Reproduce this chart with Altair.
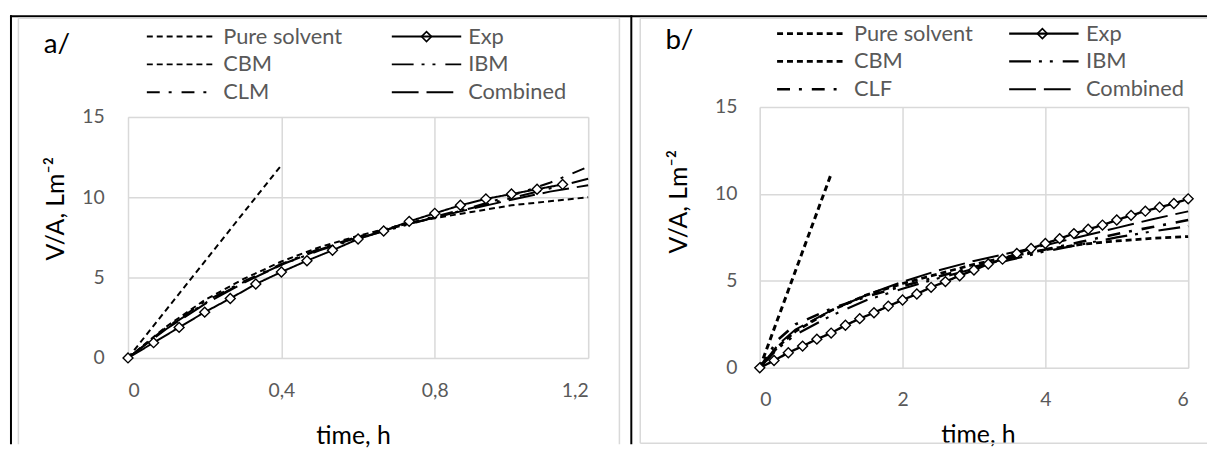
import altair as alt
import pandas as pd

FONT = "Lato"
GRID = "#d9d9d9"
LABEL_GREY = "#595959"

# ---------------- data: panel a ----------------
# legend order (column-major): col 1 = Pure solvent, CBM, CLM ; col 2 = Exp, IBM, Combined
SERIES_A = ["Pure solvent", "CBM", "CLM", "Exp", "IBM", "Combined"]
a_pure_t = [0.0, 0.4]
a_pure_v = [0.0, 12.0]
a_exp_t = [0.0, 0.0667, 0.1333, 0.2, 0.2667, 0.3333, 0.4, 0.4667, 0.5333, 0.6,
           0.6667, 0.7333, 0.8, 0.8667, 0.9333, 1.0, 1.0667, 1.1333]
a_exp_v = [0.0, 0.95, 1.9, 2.85, 3.7, 4.6, 5.35, 6.05, 6.7, 7.4,
           7.9, 8.5, 9.0, 9.5, 9.9, 10.2, 10.5, 10.8]
a_model_t = [0.0, 0.1, 0.2, 0.3, 0.4, 0.5, 0.6, 0.7, 0.8, 0.9, 1.0, 1.1, 1.2]
a_cbm = [0.0, 1.95, 3.6, 4.9, 6.0, 6.9, 7.6, 8.2, 8.7, 9.1, 9.5, 9.75, 10.0]
a_ibm = [0.0, 1.85, 3.4, 4.7, 5.8, 6.7, 7.45, 8.1, 8.75, 9.35, 9.95, 10.55, 11.15]
a_clm = [0.0, 1.9, 3.5, 4.75, 5.85, 6.8, 7.55, 8.2, 8.8, 9.4, 10.1, 10.9, 11.9]
a_comb = [0.0, 1.8, 3.35, 4.65, 5.8, 6.75, 7.5, 8.15, 8.75, 9.3, 9.85, 10.35, 10.75]
a_xticks = [0, 0.4, 0.8, 1.2]

# ---------------- data: panel b ----------------
SERIES_B = ["Pure solvent", "CBM", "CLF", "Exp", "IBM", "Combined"]
b_pure_t = [0.0, 1.0]
b_pure_v = [0.0, 11.15]
b_exp_t = [0.0, 0.2, 0.4, 0.6, 0.8, 1.0, 1.2, 1.4, 1.6, 1.8, 2.0, 2.2, 2.4, 2.6, 2.8,
           3.0, 3.2, 3.4, 3.6, 3.8, 4.0, 4.2, 4.4, 4.6, 4.8, 5.0, 5.2, 5.4, 5.6, 5.8, 6.0]
b_exp_v = [0.0, 0.42, 0.87, 1.25, 1.65, 2.0, 2.45, 2.83, 3.17, 3.55, 3.9, 4.25, 4.63, 4.96, 5.3,
           5.63, 5.97, 6.25, 6.58, 6.86, 7.15, 7.43, 7.72, 7.97, 8.21, 8.5, 8.77, 9.01, 9.24, 9.45, 9.72]
b_model_t = [0.0, 0.25, 0.5, 1.0, 1.5, 2.0, 2.5, 3.0, 3.5, 4.0, 4.5, 5.0, 5.5, 6.0]
b_cbm = [0.0, 1.2, 2.1, 3.3, 4.2, 4.85, 5.4, 5.95, 6.4, 6.8, 7.1, 7.3, 7.45, 7.55]
b_ibm = [0.0, 1.1, 1.9, 3.0, 3.9, 4.55, 5.15, 5.7, 6.2, 6.7, 7.1, 7.5, 7.85, 8.15]
b_clf = [0.0, 1.6, 2.5, 3.4, 4.1, 4.7, 5.25, 5.8, 6.3, 6.8, 7.25, 7.7, 8.1, 8.5]
b_comb = [0.0, 1.3, 2.2, 3.3, 4.2, 4.95, 5.6, 6.15, 6.6, 7.05, 7.55, 8.05, 8.55, 9.0]
b_xticks = [0, 2, 4, 6]

yticks = [0, 5, 10, 15]

# styles (same order as the series lists)
DASHES = [[6, 4], [6, 4], [13, 9, 3, 10], [1, 0], [22, 8, 3, 8, 3, 10], [27, 8]]
WIDTHS_A = [2, 2, 2, 1.3, 2, 2]
WIDTHS_B = [3, 2, 2, 1.3, 2, 2]


def long_df(pairs):
    rows = []
    for name, ts, vs in pairs:
        for t, v in zip(ts, vs):
            rows.append({"t": t, "v": v, "series": name})
    return pd.DataFrame(rows)


def panel(series, widths, lines_df, exp_df, xmax, xticks, w, h, geo, frame=None):
    x_axis = alt.Axis(
        values=xticks, labelExpr="replace(format(datum.value, '.1~f'), '.', ',')",
        title="time, h", grid=True, gridColor=GRID, gridWidth=1.5, domain=False,
        ticks=False, tickSize=0, labelFont=FONT, labelFontSize=19.5, labelColor=LABEL_GREY,
        labelPadding=geo["xlp"], titleFont=FONT, titleFontSize=25, titleFontWeight="normal",
        titleColor="black", titleX=geo["xtx"], titleY=geo["xty"], titleBaseline="alphabetic",
        titleAlign="center")
    y_axis = alt.Axis(
        values=yticks, title="V/A, Lm⁻²", grid=True, gridColor=GRID, gridWidth=1.5,
        domain=False, ticks=False, tickSize=0, labelFont=FONT, labelFontSize=19.5,
        labelColor=LABEL_GREY, labelPadding=geo["ylp"], titleFont=FONT, titleFontSize=25,
        titleFontWeight="normal", titleColor="black", titleX=geo["ytx"], titleY=geo["yty"],
        titleBaseline="alphabetic", titleAlign="center", titleAngle=270)
    x = alt.X("t:Q", scale=alt.Scale(domain=[0, xmax], nice=False), axis=x_axis)
    y = alt.Y("v:Q", scale=alt.Scale(domain=[0, 15], nice=False), axis=y_axis)
    legend = alt.Legend(
        title=None, orient="none", legendX=geo["lx"], legendY=geo["ly"], columns=2,
        symbolType="stroke", symbolSize=4900, symbolStrokeWidth=2, symbolStrokeColor="black",
        clipHeight=28, rowPadding=0, columnPadding=geo["colpad"], labelOffset=6,
        labelFont=FONT, labelFontSize=22, labelColor=LABEL_GREY, padding=0, labelLimit=400)
    lines = alt.Chart(lines_df).mark_line(color="black", strokeCap="butt").encode(
        x=x, y=y,
        strokeDash=alt.StrokeDash("series:N", scale=alt.Scale(domain=series, range=DASHES),
                                  legend=legend, sort=series),
        strokeWidth=alt.StrokeWidth("series:N", scale=alt.Scale(domain=series, range=widths),
                                    legend=None),
    )
    pts = alt.Chart(exp_df).mark_point(
        shape="diamond", filled=True, fill="white", stroke="black", strokeWidth=1.4,
        size=100, opacity=1).encode(x=x, y=y)
    one = pd.DataFrame({"k": [0]})
    # diamond glyph of the "Exp" legend entry
    glyph = alt.Chart(one).mark_point(
        shape="diamond", filled=True, fill="white", stroke="black", strokeWidth=1.6,
        size=100, opacity=1).encode(x=alt.value(geo["gx"]), y=alt.value(geo["gy"]))
    lab = alt.Chart(one).mark_text(
        text=geo["label"], font=FONT, fontSize=28, align="left", baseline="alphabetic",
        color="black").encode(x=alt.value(geo["labx"]), y=alt.value(geo["laby"]))
    layers = [lines, pts, glyph, lab]
    if frame:
        for (x1, x2, y1, y2, col, sw) in frame:
            base = alt.Chart(one).mark_rule(color=col, strokeWidth=sw)
            if y1 == y2:
                layers.append(base.encode(x=alt.value(x1), x2=alt.value(x2), y=alt.value(y1)))
            else:
                layers.append(base.encode(x=alt.value(x1), y=alt.value(y1), y2=alt.value(y2)))
    return alt.layer(*layers).properties(width=w, height=h)


df_a = long_df([("Pure solvent", a_pure_t, a_pure_v), ("Exp", a_exp_t, a_exp_v),
                ("CBM", a_model_t, a_cbm), ("IBM", a_model_t, a_ibm),
                ("CLM", a_model_t, a_clm), ("Combined", a_model_t, a_comb)])
exp_a = long_df([("Exp", a_exp_t, a_exp_v)])
df_b = long_df([("Pure solvent", b_pure_t, b_pure_v), ("Exp", b_exp_t, b_exp_v),
                ("CBM", b_model_t, b_cbm), ("IBM", b_model_t, b_ibm),
                ("CLF", b_model_t, b_clf), ("Combined", b_model_t, b_comb)])
exp_b = long_df([("Exp", b_exp_t, b_exp_v)])

geo_a = dict(xlp=24, xtx=227, xty=86, ylp=24, ytx=-65, yty=92, lx=18, ly=-95, colpad=48,
             gx=301, gy=-81, label="a/", labx=-85, laby=-64)
geo_b = dict(xlp=23, xtx=220, xty=75, ylp=23, ytx=-74, yty=95, lx=16, ly=-88, colpad=34,
             gx=285, gy=-74, label="b/", labx=-95, laby=-58)

# decorative frame (pixel offsets relative to panel b plot origin)
FRAME = [
    (-756, 451, -91.5, -91.5, "black", 2),      # top black line
    (-755, -755, -92.5, 340, "black", 2),       # left black line
    (-129.5, -129.5, -92.5, 340, "black", 2),   # divider
    (-747.5, -141.5, -89.5, -89.5, GRID, 1.5),  # panel a border top
    (-747.5, -747.5, -89.5, 340, GRID, 1.5),    # panel a border left
    (-141.5, -141.5, -89.5, 340, GRID, 1.5),    # panel a border right
    (-120.5, 451, -89.5, -89.5, GRID, 1.5),     # panel b border top
    (-120.5, -120.5, -89.5, 339, GRID, 1.5),    # panel b border left
    (-120.5, 451, 339, 339, GRID, 1.5),         # panel b border bottom
]

chart_a = panel(SERIES_A, WIDTHS_A, df_a, exp_a, 1.2, a_xticks, 464, 243, geo_a)
chart_b = panel(SERIES_B, WIDTHS_B, df_b, exp_b, 6, b_xticks, 432, 263, geo_b, FRAME)

chart = alt.hconcat(
    chart_a, chart_b, spacing=173, bounds="flush", center=True,
    padding={"left": 0, "top": 4, "right": 0, "bottom": 0},
).resolve_scale(x="independent", y="independent", strokeDash="independent",
                strokeWidth="independent").resolve_legend(
    strokeDash="independent").configure_view(
    stroke="transparent").configure(background="white")

chart.save("out.html", embed_options={"renderer": "svg", "actions": False})
